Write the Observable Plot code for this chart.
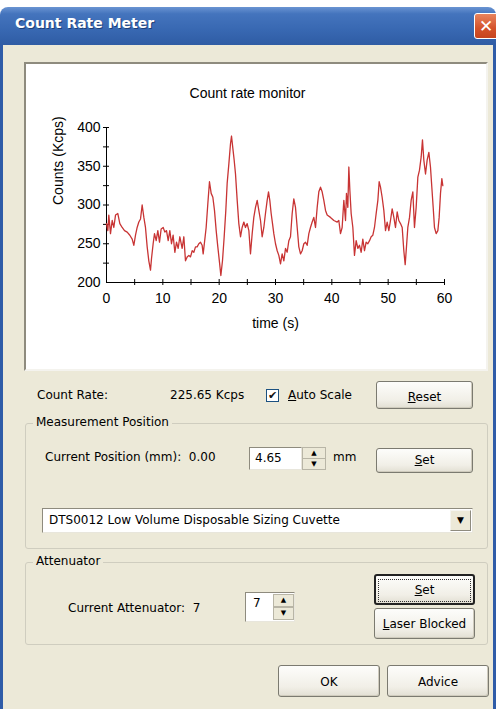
<!DOCTYPE html>
<html>
<head>
<meta charset="utf-8">
<script src="https://cdn.jsdelivr.net/npm/d3@7"></script>
<script src="https://cdn.jsdelivr.net/npm/@observablehq/plot@0.6"></script>
<style>
html, body { margin: 0; padding: 0; background: #fff; }
#win { position: relative; width: 496px; height: 709px; overflow: hidden; font-family: "DejaVu Sans", sans-serif; font-size: 12px; color: #000; }
.a { position: absolute; white-space: nowrap; }
#titlebar { left: 0; top: 7px; width: 496px; height: 38px; background: linear-gradient(#6a94d2 0%, #4474bd 18%, #3868b2 60%, #2f5ca4 100%); border-radius: 8px 8px 0 0; }
#titletext { left: 15px; top: 15px; color: #fff; font-weight: bold; font-size: 14px; text-shadow: 1px 1px 0 #1d3f78; }
#close { left: 474px; top: 13px; width: 26px; height: 26px; box-sizing: border-box; border: 1px solid #fff; border-radius: 3px; background: linear-gradient(#e8845e, #d4522a 60%, #c6441f); color: #fff; font: bold 17px "DejaVu Sans", sans-serif; line-height: 24px; padding-left: 4px; }
#body { left: 0; top: 45px; width: 496px; height: 664px; box-sizing: border-box; background: #ece9d8; border-left: 3px solid #2f5ca8; border-right: 3px solid #2f5ca8; }
#panel { left: 24px; top: 62px; width: 464px; height: 309px; box-sizing: border-box; background: #fff; border: 2px solid; border-color: #8e8b7e #f4f3ee #f4f3ee #8e8b7e; }
#plotbox { left: 26px; top: 64px; width: 460px; height: 305px; }
.btn { box-sizing: border-box; border: 1px solid #7b7a70; border-radius: 3px; background: linear-gradient(#fdfdfb, #f1efe7 70%, #e2dfd3); text-align: center; box-shadow: inset -1px -1px 0 #cfcbbd; }
.grp { box-sizing: border-box; border: 1px solid #cfcdbf; border-radius: 3px; }
.glabel { background: #ece9d8; padding: 0 3px; }
.edit { box-sizing: border-box; background: #fff; border: 1px solid; border-color: #8e8b7e #e8e6dc #e8e6dc #8e8b7e; }
.spin { box-sizing: border-box; background: #ece9d8; border: 1px solid #b8b5a6; font-size: 7px; text-align: center; color: #000; }
#chk { left: 266px; top: 389px; width: 13px; height: 13px; box-sizing: border-box; border: 1px solid #1c5180; background: #fff; font-size: 11px; line-height: 11px; text-align: center; font-weight: bold; color: #111; }
u { text-decoration: underline; }
</style>
</head>
<body>
<div id="win">
  <div class="a" id="titlebar"></div>
  <div class="a" id="titletext">Count Rate Meter</div>
  <div class="a" id="close">✕</div>
  <div class="a" id="body"></div>

  <div class="a" id="panel"></div>
  <div class="a" id="plotbox"></div>

  <div class="a" style="left:37px;top:388px;">Count Rate:</div>
  <div class="a" style="left:170px;top:388px;">225.65 Kcps</div>
  <div class="a" id="chk">✔</div>
  <div class="a" style="left:288px;top:388px;"><u>A</u>uto Scale</div>
  <div class="a btn" style="left:376px;top:381px;width:97px;height:28px;line-height:30px;"><u>R</u>eset</div>

  <div class="a grp" style="left:25px;top:423px;width:463px;height:126px;"></div>
  <div class="a glabel" style="left:33px;top:415px;">Measurement Position</div>
  <div class="a" style="left:45px;top:450px;">Current Position (mm):&nbsp; 0.00</div>
  <div class="a edit" style="left:249px;top:447px;width:53px;height:23px;line-height:21px;padding-left:5px;">4.65</div>
  <div class="a spin" style="left:302px;top:447px;width:24px;height:12px;line-height:10px;">▲</div>
  <div class="a spin" style="left:302px;top:458px;width:24px;height:12px;line-height:10px;">▼</div>
  <div class="a" style="left:333px;top:450px;">mm</div>
  <div class="a btn" style="left:376px;top:448px;width:97px;height:25px;line-height:23px;"><u>S</u>et</div>
  <div class="a edit" style="left:42px;top:508px;width:431px;height:25px;line-height:23px;padding-left:6px;">DTS0012 Low Volume Disposable Sizing Cuvette</div>
  <div class="a spin" style="left:450px;top:510px;width:21px;height:21px;line-height:19px;font-size:9px;background:#ece9d8;border-color:#f5f4ef #8e8b7e #8e8b7e #f5f4ef;">▼</div>

  <div class="a grp" style="left:25px;top:562px;width:463px;height:83px;"></div>
  <div class="a glabel" style="left:33px;top:554px;">Attenuator</div>
  <div class="a" style="left:68px;top:601px;">Current Attenuator:&nbsp; 7</div>
  <div class="a edit" style="left:245px;top:592px;width:50px;height:30px;padding-left:7px;padding-top:3px;">7</div>
  <div class="a spin" style="left:273px;top:594px;width:21px;height:13px;line-height:11px;">▲</div>
  <div class="a spin" style="left:273px;top:607px;width:21px;height:13px;line-height:11px;">▼</div>
  <div class="a btn" style="left:374px;top:574px;width:101px;height:31px;line-height:29px;border:2px solid #222;box-shadow:none;"><span style="display:inline-block;border:1px dotted #333;width:91px;height:21px;line-height:21px;margin-top:3px;"><u>S</u>et</span></div>
  <div class="a btn" style="left:374px;top:608px;width:101px;height:31px;line-height:31px;"><u>L</u>aser Blocked</div>

  <div class="a btn" style="left:278px;top:665px;width:102px;height:32px;line-height:32px;">OK</div>
  <div class="a btn" style="left:387px;top:665px;width:102px;height:32px;line-height:32px;">Advice</div>
</div>
<script>
const chartTitle = "Count rate monitor";
const xLabel = "time (s)";
const yLabel = "Counts (Kcps)";
const xTickLabels = [0, 10, 20, 30, 40, 50, 60];
const xTickMarks = [5, 10, 15, 20, 25, 30, 35, 40, 45, 50, 55, 60];
const yTickLabels = [200, 250, 300, 350, 400];
const yTickMarks = [225, 250, 275, 300, 325, 350, 375, 400];

const times = [0,0.24,0.41,0.71,1.01,1.30,1.60,2.01,2.37,2.78,3.20,3.67,4.14,4.56,4.85,5.15,5.44,5.74,6.04,6.33,6.63,6.92,7.22,7.51,7.81,7.99,8.28,8.52,8.82,9.11,9.41,9.70,10.06,10.36,10.65,10.95,11.24,11.54,11.83,12.13,12.43,12.72,13.02,13.43,13.73,14.02,14.32,14.62,14.91,15.21,15.50,15.80,16.09,16.39,16.69,16.98,17.16,17.40,17.69,17.99,18.28,18.58,18.88,19.17,19.47,19.76,20.06,20.30,20.59,20.89,21.18,21.42,21.72,22.01,22.19,22.43,22.66,22.90,23.20,23.49,23.79,24.08,24.38,24.67,24.97,25.27,25.56,25.86,26.15,26.45,26.75,27.04,27.34,27.63,27.93,28.22,28.52,28.76,28.99,29.23,29.47,29.70,30.00,30.30,30.59,30.89,31.18,31.48,31.78,32.07,32.37,32.66,32.96,33.25,33.55,33.85,34.14,34.44,34.73,35.03,35.33,35.62,35.92,36.21,36.51,36.80,37.10,37.40,37.69,37.99,38.28,38.58,38.88,39.17,39.76,40.36,40.95,41.24,41.54,41.83,42.13,42.43,42.60,42.84,43.02,43.20,43.43,43.73,44.02,44.32,44.62,44.91,45.21,45.50,45.80,46.09,46.39,46.69,46.98,47.28,47.57,47.87,48.17,48.40,48.64,48.93,49.23,49.53,49.82,50.12,50.41,50.71,51.01,51.30,51.60,51.89,52.19,52.49,52.78,53.02,53.25,53.49,53.79,54.08,54.38,54.67,54.97,55.27,55.56,55.86,56.09,56.33,56.63,56.92,57.22,57.51,57.75,57.99,58.22,58.52,58.82,59.05,59.29,59.53,59.70];
const counts = [276,267,287,263,280,271,287,289,276,271,267,265,261,256,248,261,271,278,282,300,284,271,246,228,216,231,250,263,254,267,252,269,271,265,267,254,267,250,261,239,252,244,259,244,259,228,233,235,233,241,239,246,246,250,252,248,237,252,271,302,330,315,310,293,267,246,226,209,228,259,293,328,353,379,389,373,358,340,306,276,259,271,278,271,276,267,237,263,284,297,306,293,280,259,271,289,306,317,306,289,276,263,250,241,235,224,237,228,244,239,254,259,289,308,297,271,246,237,241,250,252,248,263,271,278,284,271,297,317,323,317,306,293,287,284,280,278,280,263,271,306,280,315,297,349,319,289,271,235,254,244,248,239,256,241,252,250,254,259,261,271,289,306,330,323,310,293,267,278,267,280,295,284,271,291,280,276,271,241,223,246,271,284,306,317,271,297,336,345,362,384,358,340,358,368,349,323,297,271,263,267,284,315,334,325];

const data = times.map((t, i) => ({t, v: counts[i]}));

const chart = Plot.plot({
  width: 460,
  height: 305,
  marginLeft: 80,
  marginRight: 42,
  marginTop: 63,
  marginBottom: 87,
  style: {fontFamily: "'Liberation Sans', Arial, sans-serif", fontSize: "14px", background: "#fff", color: "#000", overflow: "visible"},
  x: {domain: [0, 60], ticks: xTickLabels, tickSize: 0, tickPadding: 11, label: null},
  y: {domain: [200, 400], ticks: yTickLabels, tickSize: 0, tickPadding: 6, label: null},
  marks: [
    Plot.ruleY([200], {x1: 0, x2: 60, stroke: "#000"}),
    Plot.ruleX([0], {y1: 200, y2: 400, stroke: "#000"}),
    Plot.ruleX(xTickMarks, {x: d => d, y1: 200, y2: 200, insetTop: -3, insetBottom: -3, stroke: "#000"}),
    Plot.ruleY(yTickMarks, {y: d => d, x1: 0, x2: 0, insetLeft: -3, insetRight: -3, stroke: "#000"}),
    Plot.line(data, {x: "t", y: "v", stroke: "#c83434", strokeWidth: 1.3}),
    Plot.text([chartTitle], {frameAnchor: "top", dy: -39, dx: -28, fontSize: 14}),
    Plot.text([xLabel], {frameAnchor: "bottom", dy: 45, fontSize: 14}),
    Plot.text([yLabel], {frameAnchor: "left", rotate: -90, dx: -48, fontSize: 14})
  ]
});
document.getElementById("plotbox").appendChild(chart);
</script>
</body>
</html>
